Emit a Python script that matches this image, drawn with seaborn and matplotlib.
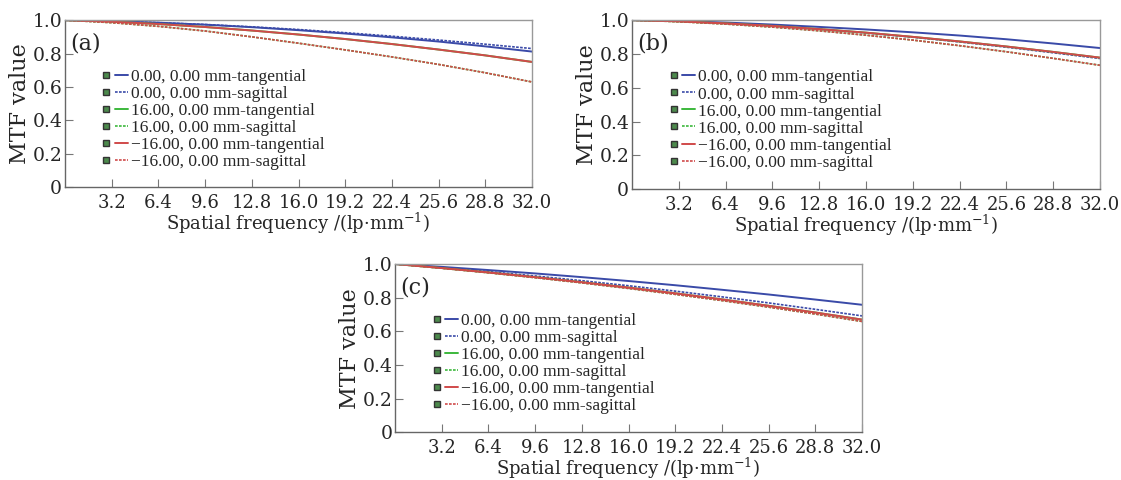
import numpy as np
import pandas as pd
import matplotlib
matplotlib.use('Agg')
import matplotlib.pyplot as plt
from matplotlib.lines import Line2D
from matplotlib.legend_handler import HandlerTuple
import seaborn as sns

sns.set_style('ticks')
plt.rcParams['font.family'] = ['DejaVu Serif']
plt.rcParams['mathtext.fontset'] = 'dejavuserif'

freq = [0, 3.2, 6.4, 9.6, 12.8, 16.0, 19.2, 22.4, 25.6, 28.8, 32.0]
xtick_vals = [3.2, 6.4, 9.6, 12.8, 16.0, 19.2, 22.4, 25.6, 28.8, 32.0]
ytick_vals = [0, 0.2, 0.4, 0.6, 0.8, 1.0]
ytick_labels = ['0', '0.2', '0.4', '0.6', '0.8', '1.0']

series_names = ['0.00, 0.00 mm-tangential', '0.00, 0.00 mm-sagittal',
                '16.00, 0.00 mm-tangential', '16.00, 0.00 mm-sagittal',
                '\u221216.00, 0.00 mm-tangential', '\u221216.00, 0.00 mm-sagittal']

# panel (a)
a_c_t = [1.0, 0.994, 0.985, 0.973, 0.958, 0.940, 0.920, 0.897, 0.872, 0.843, 0.812]
a_c_s = [1.0, 0.994, 0.985, 0.974, 0.960, 0.944, 0.925, 0.904, 0.881, 0.856, 0.830]
a_p_t = [1.0, 0.991, 0.977, 0.959, 0.938, 0.914, 0.887, 0.857, 0.824, 0.789, 0.750]
a_p_s = [1.0, 0.985, 0.963, 0.935, 0.900, 0.862, 0.822, 0.780, 0.735, 0.685, 0.630]
a_m_t = [1.0, 0.991, 0.977, 0.959, 0.938, 0.914, 0.887, 0.857, 0.824, 0.789, 0.750]
a_m_s = [1.0, 0.985, 0.963, 0.935, 0.900, 0.862, 0.822, 0.780, 0.735, 0.685, 0.630]

# panel (b)
b_c_t = [1.0, 0.995, 0.986, 0.974, 0.960, 0.945, 0.928, 0.909, 0.887, 0.862, 0.835]
b_c_s = [1.0, 0.993, 0.981, 0.965, 0.946, 0.924, 0.899, 0.871, 0.840, 0.807, 0.773]
b_p_t = [1.0, 0.993, 0.981, 0.966, 0.947, 0.926, 0.901, 0.874, 0.844, 0.812, 0.778]
b_p_s = [1.0, 0.991, 0.977, 0.959, 0.937, 0.911, 0.882, 0.849, 0.813, 0.774, 0.733]
b_m_t = [1.0, 0.993, 0.981, 0.966, 0.947, 0.926, 0.901, 0.874, 0.844, 0.812, 0.778]
b_m_s = [1.0, 0.991, 0.977, 0.959, 0.937, 0.911, 0.882, 0.849, 0.813, 0.774, 0.733]

# panel (c)
c_c_t = [1.0, 0.983, 0.964, 0.944, 0.922, 0.899, 0.874, 0.847, 0.819, 0.789, 0.758]
c_c_s = [1.0, 0.979, 0.955, 0.929, 0.901, 0.871, 0.839, 0.805, 0.769, 0.731, 0.692]
c_p_t = [1.0, 0.976, 0.950, 0.922, 0.892, 0.860, 0.826, 0.790, 0.752, 0.712, 0.670]
c_p_s = [1.0, 0.975, 0.948, 0.919, 0.888, 0.855, 0.820, 0.783, 0.744, 0.703, 0.659]
c_m_t = [1.0, 0.976, 0.950, 0.922, 0.892, 0.860, 0.826, 0.790, 0.752, 0.712, 0.670]
c_m_s = [1.0, 0.975, 0.948, 0.919, 0.888, 0.855, 0.820, 0.783, 0.744, 0.703, 0.659]

panels = [
    ('(a)', [a_c_t, a_c_s, a_p_t, a_p_s, a_m_t, a_m_s], [0.058, 0.610, 0.4166, 0.348]),
    ('(b)', [b_c_t, b_c_s, b_p_t, b_p_s, b_m_t, b_m_s], [0.5638, 0.606, 0.4175, 0.352]),
    ('(c)', [c_c_t, c_c_s, c_p_t, c_p_s, c_m_t, c_m_s], [0.3524, 0.099, 0.4166, 0.351]),
]

colors = ['#3a4aa8', '#3a4aa8', '#3cb83c', '#3cb83c', '#d04a4a', '#d04a4a']
dotted = (0, (1.6, 0.8))
styles = ['-', dotted, '-', dotted, '-', dotted]
widths = [1.4, 1.2, 1.4, 1.2, 1.4, 1.2]

fig = plt.figure(figsize=(11.21, 4.80), dpi=100)

for label, vals, rect in panels:
    ax = fig.add_axes(rect)
    for i in range(6):
        sns.lineplot(x=freq, y=vals[i], ax=ax, color=colors[i],
                     linestyle=styles[i], linewidth=widths[i])
    ax.set_xlim(0, 32)
    ax.set_ylim(0, 1.0)
    ax.set_xticks(xtick_vals)
    ax.set_xticklabels([f'{v:.1f}' for v in xtick_vals], fontsize=13)
    ax.set_yticks(ytick_vals)
    ax.set_yticklabels(ytick_labels, fontsize=13.5)
    ax.tick_params(direction='in', length=6, color='#777777')
    ax.tick_params(axis='x', pad=5)
    ax.tick_params(axis='y', pad=2)
    for s in ['left', 'bottom']:
        ax.spines[s].set_color('#666666')
        ax.spines[s].set_linewidth(1.0)
    for s in ['top', 'right']:
        ax.spines[s].set_color('#999999')
        ax.spines[s].set_linewidth(1.0)
    ax.set_xlabel('Spatial frequency /(lp\u00b7mm$^{-1}$)', fontsize=13, labelpad=-1)
    ax.set_ylabel('MTF value', fontsize=16, labelpad=1)
    ax.text(0.012, 0.86, label, transform=ax.transAxes, fontsize=16,
            ha='left', va='center')

    handles = []
    for i in range(6):
        box = Line2D([], [], marker='s', markersize=5, markerfacecolor='#4c8a4c',
                     markeredgecolor='#333333', linestyle='')
        ln = Line2D([], [], color=colors[i], linestyle=styles[i], linewidth=widths[i])
        handles.append((box, ln))
    ax.legend(handles, series_names, loc='upper left', bbox_to_anchor=(0.06, 0.75),
              frameon=False, prop={'family': ['Liberation Serif', 'DejaVu Serif'], 'size': 12.5},
              handlelength=1.6, handletextpad=0.2,
              labelspacing=0.05, borderaxespad=0,
              handler_map={tuple: HandlerTuple(ndivide=None, pad=0.1)})

fig.savefig('out.png', dpi=100)
